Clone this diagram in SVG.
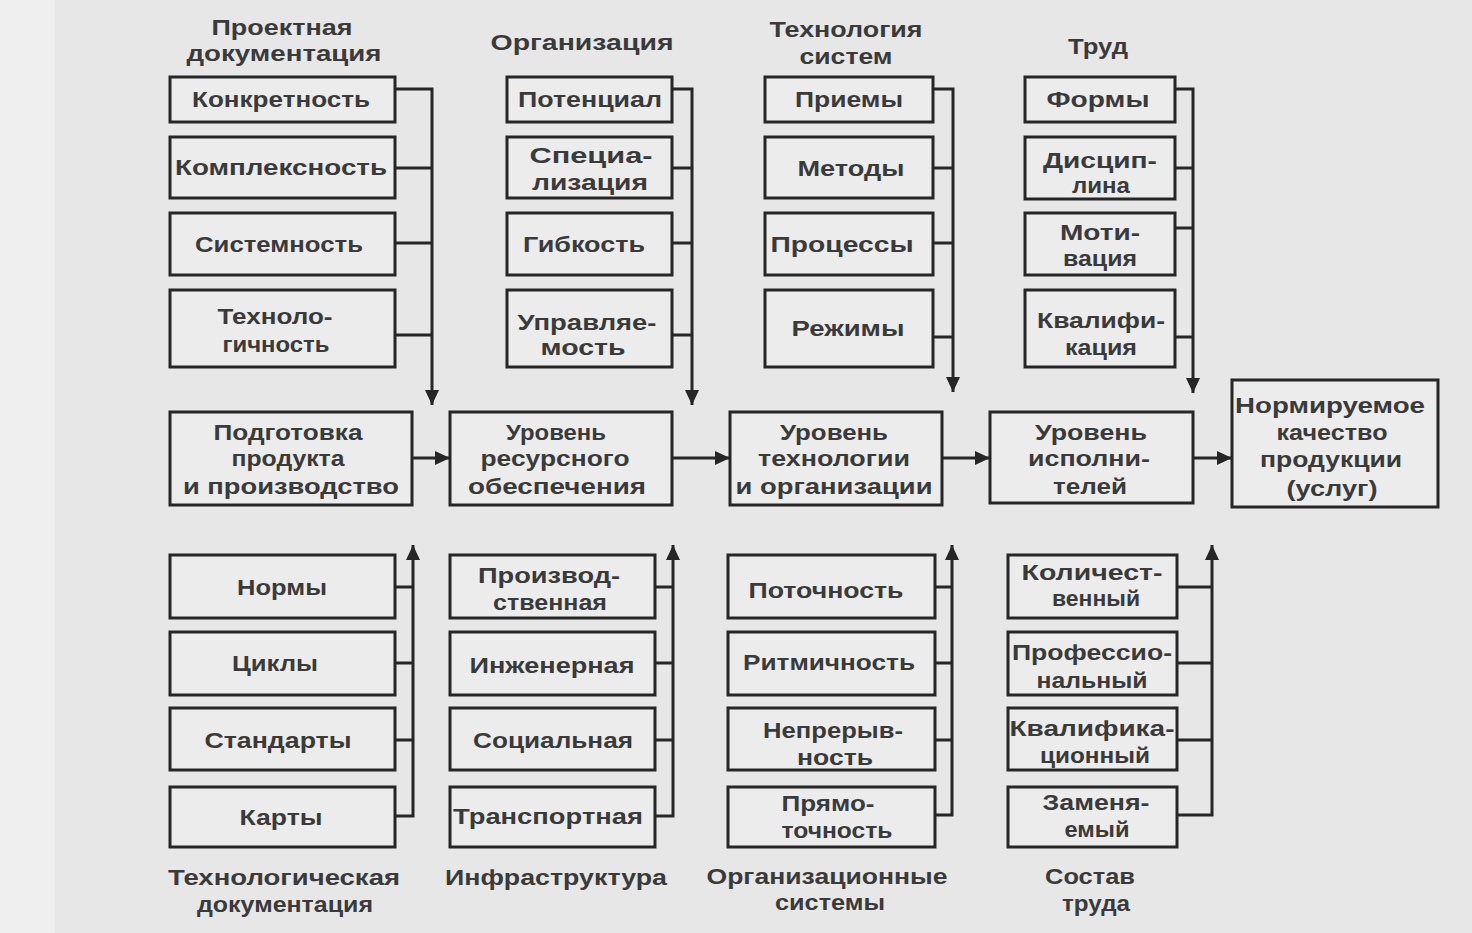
<svg xmlns="http://www.w3.org/2000/svg" width="1472" height="933" viewBox="0 0 1472 933">
<defs>
<style>
.bg{fill:#e7e7e7}
.box{fill:#ececec;stroke:#262626;stroke-width:3}
.t{font-family:"Liberation Sans",Arial,sans-serif;font-size:22px;font-weight:bold;fill:#3a3a3a;text-anchor:middle}
.c{fill:none;stroke:#262626;stroke-width:3}
</style>
<marker id="ah" markerUnits="userSpaceOnUse" markerWidth="16" markerHeight="14" refX="15" refY="7" orient="auto">
<path d="M0,0 L15,7 L0,14 Z" fill="#262626"/>
</marker>
</defs>
<rect class="bg" x="0" y="0" width="1472" height="933"/>
<rect x="0" y="0" width="55" height="933" fill="#efefef"/>

<!-- captions -->
<g id="cap-top1"><text class="t" x="282" y="35" textLength="141" lengthAdjust="spacingAndGlyphs">Проектная</text><text class="t" x="284" y="61" textLength="195" lengthAdjust="spacingAndGlyphs">документация</text></g>
<g id="cap-top2"><text class="t" x="582" y="50" textLength="183" lengthAdjust="spacingAndGlyphs">Организация</text></g>
<g id="cap-top3"><text class="t" x="846" y="37" textLength="153" lengthAdjust="spacingAndGlyphs">Технология</text><text class="t" x="846" y="64" textLength="93" lengthAdjust="spacingAndGlyphs">систем</text></g>
<g id="cap-top4"><text class="t" x="1098" y="54" textLength="60" lengthAdjust="spacingAndGlyphs">Труд</text></g>
<g id="cap-bot1"><text class="t" x="284" y="885" textLength="232" lengthAdjust="spacingAndGlyphs">Технологическая</text><text class="t" x="285" y="912" textLength="176" lengthAdjust="spacingAndGlyphs">документация</text></g>
<g id="cap-bot2"><text class="t" x="556" y="885" textLength="222" lengthAdjust="spacingAndGlyphs">Инфраструктура</text></g>
<g id="cap-bot3"><text class="t" x="827" y="884" textLength="241" lengthAdjust="spacingAndGlyphs">Организационные</text><text class="t" x="830" y="910" textLength="110" lengthAdjust="spacingAndGlyphs">системы</text></g>
<g id="cap-bot4"><text class="t" x="1090" y="884" textLength="90" lengthAdjust="spacingAndGlyphs">Состав</text><text class="t" x="1096" y="911" textLength="68" lengthAdjust="spacingAndGlyphs">труда</text></g>

<!-- top column 1 -->
<g id="n-konkretnost"><rect class="box" x="170" y="77" width="225" height="45"/><text class="t" x="281" y="107" textLength="178" lengthAdjust="spacingAndGlyphs">Конкретность</text></g>
<g id="n-kompleksnost"><rect class="box" x="170" y="137" width="225" height="61"/><text class="t" x="281" y="175" textLength="212" lengthAdjust="spacingAndGlyphs">Комплексность</text></g>
<g id="n-sistemnost"><rect class="box" x="170" y="213" width="225" height="62"/><text class="t" x="279" y="252" textLength="168" lengthAdjust="spacingAndGlyphs">Системность</text></g>
<g id="n-tekhnologichnost"><rect class="box" x="170" y="290" width="225" height="77"/><text class="t" x="275" y="324" textLength="115" lengthAdjust="spacingAndGlyphs">Техноло-</text><text class="t" x="276" y="352" textLength="107" lengthAdjust="spacingAndGlyphs">гичность</text></g>

<!-- top column 2 -->
<g id="n-potencial"><rect class="box" x="507" y="77" width="165" height="45"/><text class="t" x="590" y="107" textLength="144" lengthAdjust="spacingAndGlyphs">Потенциал</text></g>
<g id="n-specializaciya"><rect class="box" x="507" y="137" width="165" height="61"/><text class="t" x="591" y="163" textLength="123" lengthAdjust="spacingAndGlyphs">Специа-</text><text class="t" x="590" y="190" textLength="116" lengthAdjust="spacingAndGlyphs">лизация</text></g>
<g id="n-gibkost"><rect class="box" x="507" y="213" width="165" height="62"/><text class="t" x="584" y="252" textLength="122" lengthAdjust="spacingAndGlyphs">Гибкость</text></g>
<g id="n-upravlyaemost"><rect class="box" x="507" y="290" width="165" height="77"/><text class="t" x="587" y="330" textLength="139" lengthAdjust="spacingAndGlyphs">Управляе-</text><text class="t" x="583" y="355" textLength="85" lengthAdjust="spacingAndGlyphs">мость</text></g>

<!-- top column 3 -->
<g id="n-priemy"><rect class="box" x="765" y="77" width="168" height="45"/><text class="t" x="849" y="107" textLength="108" lengthAdjust="spacingAndGlyphs">Приемы</text></g>
<g id="n-metody"><rect class="box" x="765" y="137" width="168" height="61"/><text class="t" x="851" y="176" textLength="107" lengthAdjust="spacingAndGlyphs">Методы</text></g>
<g id="n-processy"><rect class="box" x="765" y="213" width="168" height="62"/><text class="t" x="842" y="252" textLength="143" lengthAdjust="spacingAndGlyphs">Процессы</text></g>
<g id="n-rezhimy"><rect class="box" x="765" y="290" width="168" height="77"/><text class="t" x="848" y="336" textLength="113" lengthAdjust="spacingAndGlyphs">Режимы</text></g>

<!-- top column 4 -->
<g id="n-formy"><rect class="box" x="1025" y="77" width="150" height="45"/><text class="t" x="1098" y="107" textLength="103" lengthAdjust="spacingAndGlyphs">Формы</text></g>
<g id="n-disciplina"><rect class="box" x="1025" y="137" width="150" height="62"/><text class="t" x="1100" y="168" textLength="114" lengthAdjust="spacingAndGlyphs">Дисцип-</text><text class="t" x="1101" y="193" textLength="58" lengthAdjust="spacingAndGlyphs">лина</text></g>
<g id="n-motivaciya"><rect class="box" x="1025" y="213" width="150" height="62"/><text class="t" x="1100" y="240" textLength="80" lengthAdjust="spacingAndGlyphs">Моти-</text><text class="t" x="1100" y="266" textLength="74" lengthAdjust="spacingAndGlyphs">вация</text></g>
<g id="n-kvalifikaciya"><rect class="box" x="1025" y="290" width="150" height="77"/><text class="t" x="1101" y="328" textLength="128" lengthAdjust="spacingAndGlyphs">Квалифи-</text><text class="t" x="1101" y="355" textLength="72" lengthAdjust="spacingAndGlyphs">кация</text></g>

<!-- middle row -->
<g id="n-podgotovka"><rect class="box" x="170" y="412" width="242" height="93"/><text class="t" x="288" y="440" textLength="149" lengthAdjust="spacingAndGlyphs">Подготовка</text><text class="t" x="288" y="466" textLength="113" lengthAdjust="spacingAndGlyphs">продукта</text><text class="t" x="291" y="494" textLength="216" lengthAdjust="spacingAndGlyphs">и производство</text></g>
<g id="n-resursy"><rect class="box" x="450" y="412" width="222" height="93"/><text class="t" x="556" y="440" textLength="100" lengthAdjust="spacingAndGlyphs">Уровень</text><text class="t" x="555" y="466" textLength="149" lengthAdjust="spacingAndGlyphs">ресурсного</text><text class="t" x="557" y="494" textLength="178" lengthAdjust="spacingAndGlyphs">обеспечения</text></g>
<g id="n-tekhnologiya"><rect class="box" x="730" y="412" width="212" height="93"/><text class="t" x="834" y="440" textLength="108" lengthAdjust="spacingAndGlyphs">Уровень</text><text class="t" x="834" y="466" textLength="152" lengthAdjust="spacingAndGlyphs">технологии</text><text class="t" x="834" y="494" textLength="197" lengthAdjust="spacingAndGlyphs">и организации</text></g>
<g id="n-ispolniteli"><rect class="box" x="990" y="412" width="203" height="91"/><text class="t" x="1091" y="440" textLength="112" lengthAdjust="spacingAndGlyphs">Уровень</text><text class="t" x="1089" y="466" textLength="122" lengthAdjust="spacingAndGlyphs">исполни-</text><text class="t" x="1090" y="494" textLength="74" lengthAdjust="spacingAndGlyphs">телей</text></g>
<g id="n-kachestvo"><rect class="box" x="1232" y="380" width="206" height="127"/><text class="t" x="1330" y="413" textLength="190" lengthAdjust="spacingAndGlyphs">Нормируемое</text><text class="t" x="1332" y="440" textLength="111" lengthAdjust="spacingAndGlyphs">качество</text><text class="t" x="1331" y="467" textLength="142" lengthAdjust="spacingAndGlyphs">продукции</text><text class="t" x="1332" y="496" textLength="91" lengthAdjust="spacingAndGlyphs">(услуг)</text></g>

<!-- bottom column 1 -->
<g id="n-normy"><rect class="box" x="170" y="555" width="225" height="63"/><text class="t" x="282" y="595" textLength="90" lengthAdjust="spacingAndGlyphs">Нормы</text></g>
<g id="n-cikly"><rect class="box" x="170" y="632" width="225" height="63"/><text class="t" x="275" y="671" textLength="86" lengthAdjust="spacingAndGlyphs">Циклы</text></g>
<g id="n-standarty"><rect class="box" x="170" y="708" width="225" height="62"/><text class="t" x="278" y="748" textLength="147" lengthAdjust="spacingAndGlyphs">Стандарты</text></g>
<g id="n-karty"><rect class="box" x="170" y="787" width="225" height="60"/><text class="t" x="281" y="825" textLength="83" lengthAdjust="spacingAndGlyphs">Карты</text></g>

<!-- bottom column 2 -->
<g id="n-proizvodstvennaya"><rect class="box" x="450" y="555" width="205" height="63"/><text class="t" x="549" y="583" textLength="142" lengthAdjust="spacingAndGlyphs">Производ-</text><text class="t" x="550" y="610" textLength="114" lengthAdjust="spacingAndGlyphs">ственная</text></g>
<g id="n-inzhenernaya"><rect class="box" x="450" y="632" width="205" height="63"/><text class="t" x="552" y="673" textLength="165" lengthAdjust="spacingAndGlyphs">Инженерная</text></g>
<g id="n-socialnaya"><rect class="box" x="450" y="708" width="205" height="62"/><text class="t" x="553" y="748" textLength="160" lengthAdjust="spacingAndGlyphs">Социальная</text></g>
<g id="n-transportnaya"><rect class="box" x="450" y="787" width="205" height="60"/><text class="t" x="548" y="824" textLength="190" lengthAdjust="spacingAndGlyphs">Транспортная</text></g>

<!-- bottom column 3 -->
<g id="n-potochnost"><rect class="box" x="728" y="555" width="207" height="63"/><text class="t" x="826" y="598" textLength="155" lengthAdjust="spacingAndGlyphs">Поточность</text></g>
<g id="n-ritmichnost"><rect class="box" x="728" y="632" width="207" height="63"/><text class="t" x="829" y="670" textLength="172" lengthAdjust="spacingAndGlyphs">Ритмичность</text></g>
<g id="n-nepreryvnost"><rect class="box" x="728" y="708" width="207" height="62"/><text class="t" x="833" y="738" textLength="140" lengthAdjust="spacingAndGlyphs">Непрерыв-</text><text class="t" x="835" y="765" textLength="76" lengthAdjust="spacingAndGlyphs">ность</text></g>
<g id="n-pryamotochnost"><rect class="box" x="728" y="787" width="207" height="60"/><text class="t" x="828" y="811" textLength="93" lengthAdjust="spacingAndGlyphs">Прямо-</text><text class="t" x="837" y="838" textLength="111" lengthAdjust="spacingAndGlyphs">точность</text></g>

<!-- bottom column 4 -->
<g id="n-kolichestvennyy"><rect class="box" x="1008" y="555" width="169" height="63"/><text class="t" x="1092" y="580" textLength="141" lengthAdjust="spacingAndGlyphs">Количест-</text><text class="t" x="1096" y="606" textLength="88" lengthAdjust="spacingAndGlyphs">венный</text></g>
<g id="n-professionalnyy"><rect class="box" x="1008" y="632" width="169" height="63"/><text class="t" x="1092" y="660" textLength="160" lengthAdjust="spacingAndGlyphs">Профессио-</text><text class="t" x="1092" y="688" textLength="111" lengthAdjust="spacingAndGlyphs">нальный</text></g>
<g id="n-kvalifikacionnyy"><rect class="box" x="1008" y="708" width="169" height="62"/><text class="t" x="1092" y="736" textLength="165" lengthAdjust="spacingAndGlyphs">Квалифика-</text><text class="t" x="1095" y="763" textLength="110" lengthAdjust="spacingAndGlyphs">ционный</text></g>
<g id="n-zamenyaemyy"><rect class="box" x="1008" y="787" width="169" height="60"/><text class="t" x="1096" y="810" textLength="107" lengthAdjust="spacingAndGlyphs">Заменя-</text><text class="t" x="1097" y="837" textLength="65" lengthAdjust="spacingAndGlyphs">емый</text></g>

<!-- connectors -->
<g id="connectors">
<path class="c" d="M395,89 H432 V405" marker-end="url(#ah)"/>
<path class="c" d="M395,168 H432 M395,243 H432 M395,335 H432"/>
<path class="c" d="M672,89 H692 V405" marker-end="url(#ah)"/>
<path class="c" d="M672,168 H692 M672,243 H692 M672,335 H692"/>
<path class="c" d="M933,89 H953 V392" marker-end="url(#ah)"/>
<path class="c" d="M933,168 H953 M933,243 H953 M933,337 H953"/>
<path class="c" d="M1175,89 H1193 V393" marker-end="url(#ah)"/>
<path class="c" d="M1175,168 H1193 M1175,228 H1193 M1175,337 H1193"/>

<path class="c" d="M395,816 H413 V545" marker-end="url(#ah)"/>
<path class="c" d="M395,587 H413 M395,663 H413 M395,740 H413"/>
<path class="c" d="M655,816 H673 V545" marker-end="url(#ah)"/>
<path class="c" d="M655,587 H673 M655,663 H673 M655,740 H673"/>
<path class="c" d="M935,815 H952 V545" marker-end="url(#ah)"/>
<path class="c" d="M935,587 H952 M935,663 H952 M935,740 H952"/>
<path class="c" d="M1177,815 H1212 V545" marker-end="url(#ah)"/>
<path class="c" d="M1177,587 H1212 M1177,663 H1212 M1177,740 H1212"/>

<path class="c" d="M412,458 H450" marker-end="url(#ah)"/>
<path class="c" d="M672,458 H730" marker-end="url(#ah)"/>
<path class="c" d="M942,458 H990" marker-end="url(#ah)"/>
<path class="c" d="M1193,458 H1232" marker-end="url(#ah)"/>
</g>
</svg>
